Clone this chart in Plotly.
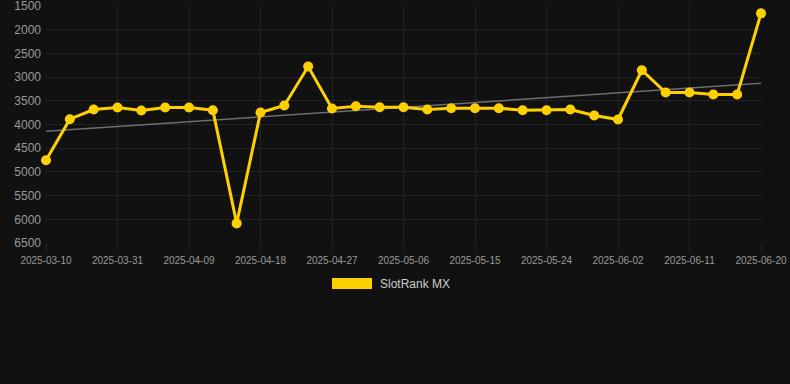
import numpy as np
import plotly.graph_objects as go

dates = ["2025-03-10", "2025-03-25", "2025-03-28", "2025-03-31", "2025-04-03", "2025-04-06",
         "2025-04-09", "2025-04-12", "2025-04-15", "2025-04-18", "2025-04-21", "2025-04-24",
         "2025-04-27", "2025-04-30", "2025-05-03", "2025-05-06", "2025-05-09", "2025-05-12",
         "2025-05-15", "2025-05-18", "2025-05-21", "2025-05-24", "2025-05-27", "2025-05-30",
         "2025-06-02", "2025-06-05", "2025-06-08", "2025-06-11", "2025-06-14", "2025-06-17",
         "2025-06-20"]
ranks = [4755, 3888, 3684, 3642, 3705, 3642, 3642, 3698, 6086, 3747, 3600, 2778,
         3663, 3614, 3635, 3635, 3684, 3656, 3656, 3656, 3698, 3698, 3684, 3810,
         3895, 2855, 3326, 3326, 3368, 3368, 1655]
y_ticks = [1500, 2000, 2500, 3000, 3500, 4000, 4500, 5000, 5500, 6000, 6500]
x_tick_labels = dates[0::3]
series_name = "SlotRank MX"

idx = np.arange(len(ranks))
slope, intercept = np.polyfit(idx, ranks, 1)
trend = slope * idx + intercept

fig = go.Figure()
fig.add_trace(go.Scatter(
    x=dates, y=trend, mode="lines",
    line=dict(color="#6e6e6e", width=1.5),
    showlegend=False, hoverinfo="skip",
))
fig.add_trace(go.Scatter(
    x=dates, y=ranks, mode="lines+markers", name=series_name,
    line=dict(color="#FFD000", width=3),
    marker=dict(color="#FFD000", size=10),
    cliponaxis=False, showlegend=False,
))

# legend drawn as a box + label (matches the reference's rectangle swatch)
fig.add_shape(type="rect", xref="paper", yref="paper",
              x0=0.4, x1=0.456, y0=-0.1477, y1=-0.1941,
              fillcolor="#FFD000", line=dict(width=0))
fig.add_annotation(xref="paper", yref="paper", x=0.4643, y=-0.171,
                   xanchor="left", yanchor="middle", showarrow=False,
                   text=series_name, font=dict(size=12, color="#cccccc"))

fig.update_layout(
    width=790, height=384,
    paper_bgcolor="#111111", plot_bgcolor="#111111",
    margin=dict(l=46, r=29, t=6, b=141),
    font=dict(family="Liberation Sans, Arial, sans-serif", color="#999999"),
    showlegend=False,
    xaxis=dict(
        type="category", range=[0, len(dates) - 1],
        tickvals=x_tick_labels, ticktext=x_tick_labels,
        tickfont=dict(size=10, color="#999999"), tickangle=0,
        showgrid=True, gridcolor="#222222", gridwidth=1,
        zeroline=False, showline=False,
        ticks="outside", ticklen=8, tickcolor="#222222",
        ticklabeloverflow="allow", automargin=False,
    ),
    yaxis=dict(
        range=[6500, 1500], tickvals=y_ticks,
        tickfont=dict(size=12, color="#999999"),
        showgrid=True, gridcolor="#222222", gridwidth=1,
        zeroline=False, showline=False, ticks="", ticklabelstandoff=4,
        ticklabeloverflow="allow", automargin=False,
    ),
)

fig.write_html("out.html", config={"displayModeBar": False},
               post_script="document.body.style.margin='0';document.body.style.background='#111111';")
